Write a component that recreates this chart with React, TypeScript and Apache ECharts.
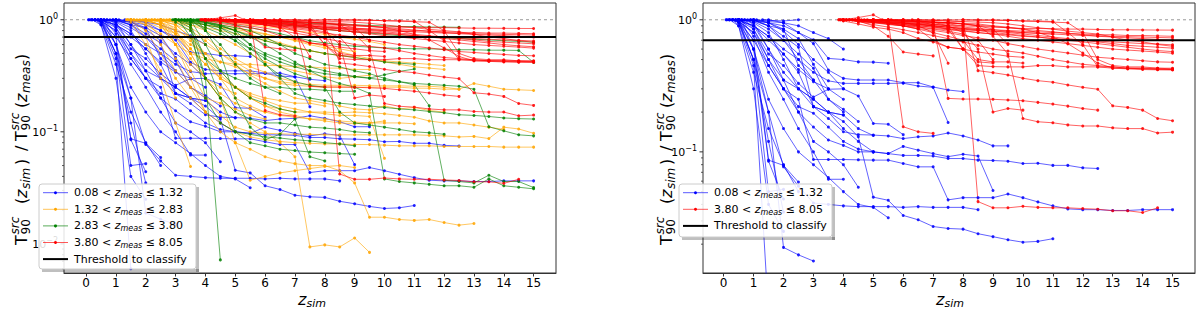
import React, { useEffect, useRef } from "react";
import * as echarts from "echarts";

const FONT = '"DejaVu Sans", sans-serif';

// simulated-redshift grid (points after the measured redshift of each burst)
const zGrid = [0.5, 1, 1.5, 2, 2.5, 3, 3.5, 4, 4.5, 5, 5.5, 6, 6.5, 7, 7.5, 8, 8.5, 9, 9.5, 10, 10.5, 11, 11.5, 12, 12.5, 13, 13.5, 14, 14.5, 15];

// each line: [z_meas, ratio at z_meas, ratios at following zGrid points...]
const blueLines = [
  [0.3, 1, 0.95, 0.45, 0.006],
  [0.4, 1, 0.97, 0.5, 0.05, 0.052],
  [0.5, 1, 0.6, 0.085, 0.044],
  [0.6, 1, 0.6, 0.2, 0.0189, 0.0166, 0.0149],
  [0.5, 1, 0.7, 0.0866, 0.079, 0.059],
  [0.7, 1, 0.85, 0.5, 0.3, 0.25, 0.0875, 0.0875, 0.0875, 0.087, 0.0866, 0.0866, 0.0816, 0.077, 0.077, 0.0433, 0.045, 0.045, 0.045, 0.048, 0.045, 0.0418, 0.039, 0.037, 0.0365, 0.0365, 0.036, 0.036, 0.0365, 0.0365, 0.0365],
  [0.3, 1, 0.98, 0.8, 0.45, 0.3, 0.2, 0.154, 0.123, 0.112, 0.1, 0.1, 0.097, 0.094, 0.094, 0.093, 0.089, 0.089, 0.0866, 0.086, 0.085, 0.0816, 0.082, 0.079, 0.079, 0.0757, 0.0748],
  [0.2, 1, 0.97, 0.8, 0.5, 0.35, 0.3, 0.25, 0.2, 0.17, 0.13, 0.0454, 0.043, 0.033, 0.0306, 0.0272, 0.0263, 0.026, 0.024, 0.0228, 0.0216, 0.0207, 0.021, 0.022],
  [0.3, 1, 0.95, 0.5, 0.2, 0.077, 0.055, 0.041, 0.04, 0.039, 0.0385, 0.0385, 0.0385, 0.038, 0.0385, 0.038, 0.038, 0.038, 0.0365],
  [0.5, 1, 1, 0.97, 0.95, 0.8, 0.705, 0.51, 0.5, 0.48, 0.478, 0.469],
  [0.6, 1, 0.98, 0.95, 0.9, 0.8, 0.66, 0.417, 0.36, 0.35, 0.35, 0.35, 0.334, 0.334, 0.31, 0.294, 0.286],
  [0.4, 1, 1, 0.9, 0.75, 0.6, 0.5, 0.4, 0.345, 0.33, 0.33, 0.33, 0.33, 0.331, 0.315, 0.308, 0.167],
  [0.3, 1, 1, 0.85, 0.55, 0.45, 0.33, 0.26, 0.298, 0.3, 0.265, 0.164, 0.162, 0.135],
  [0.5, 1, 0.95, 0.6, 0.4, 0.3, 0.22, 0.179, 0.142, 0.135, 0.134, 0.132, 0.126, 0.13, 0.132, 0.139, 0.132, 0.123, 0.111, 0.111],
  [0.2, 1, 0.97, 0.7, 0.45, 0.3, 0.22, 0.196, 0.154, 0.12, 0.105, 0.1, 0.097, 0.11, 0.103, 0.097, 0.092, 0.096, 0.093, 0.051],
  [0.4, 1, 0.97, 0.6, 0.25, 0.15, 0.1, 0.08, 0.064, 0.05, 0.04, 0.038, 0.0317],
  [0.6, 1, 0.75, 0.4, 0.25, 0.15, 0.1, 0.062, 0.062],
  [0.3, 1, 1, 0.9, 0.6, 0.35, 0.2, 0.12, 0.1, 0.08, 0.054],
  [0.1, 1, 1, 1, 0.99, 0.98, 1.0],
  [0.5, 1, 0.99, 0.95, 0.85, 0.72, 0.46, 0.3],
  [0.8, 1, 0.9, 0.7, 0.55, 0.42, 0.34, 0.3, 0.25],
  [0.9, 1, 0.97, 0.85, 0.7, 0.55, 0.43, 0.25, 0.21, 0.17],
  [1.0, 1, 0.9, 0.75, 0.62, 0.22, 0.2, 0.19, 0.15, 0.133],
  [1.1, 1, 0.95, 0.82, 0.65, 0.5, 0.4, 0.3],
  [1.3, 1, 1, 0.95, 0.9, 0.8, 0.72, 0.6],
  [0.2, 1, 0.9, 0.3, 0.04, 0.025],
  [0.3, 1, 0.9, 0.4, 0.15, 0.08, 0.05],
  [0.5, 1, 0.5, 0.12, 0.035],
  [0.15, 1, 0.98, 0.9, 0.75, 0.55, 0.4, 0.22, 0.2, 0.19],
  [0.7, 1, 0.95, 0.8, 0.5, 0.3, 0.25, 0.2, 0.15, 0.12, 0.1],
  [0.9, 1, 1, 0.9, 0.85, 0.45, 0.35, 0.25, 0.2],
  [0.08, 1, 1, 0.98, 0.9, 0.7, 0.5, 0.35],
];

const orangeLines = [
  [1.5, 1, 0.95, 0.85, 0.75, 0.6, 0.5, 0.42, 0.38, 0.33, 0.3, 0.28, 0.27, 0.265, 0.26, 0.26, 0.26, 0.258, 0.257, 0.257, 0.255, 0.255, 0.25, 0.24, 0.27, 0.255, 0.24, 0.237, 0.234],
  [2.0, 1, 0.9, 0.6, 0.35, 0.2, 0.14, 0.11, 0.1, 0.097, 0.096, 0.095, 0.095, 0.094, 0.094, 0.094, 0.094, 0.094, 0.094, 0.094, 0.093, 0.092, 0.09, 0.091, 0.087, 0.11, 0.106, 0.097],
  [1.8, 1, 0.97, 0.7, 0.45, 0.25, 0.15, 0.12, 0.1, 0.09, 0.085, 0.082, 0.08, 0.079, 0.078, 0.078, 0.077, 0.077, 0.076, 0.075, 0.075, 0.075, 0.074, 0.074, 0.074, 0.074, 0.073, 0.073, 0.073],
  [2.5, 1, 0.6, 0.3, 0.15, 0.1, 0.08, 0.07, 0.06, 0.055, 0.052, 0.05, 0.05, 0.045, 0.035, 0.0173, 0.0173, 0.0165, 0.0162, 0.0165, 0.0155, 0.0147, 0.0152],
  [2.2, 1, 0.95, 0.8, 0.5, 0.3, 0.2, 0.15, 0.12, 0.1, 0.08, 0.06, 0.0094, 0.0098, 0.0094, 0.0113, 0.0084],
  [1.5, 1, 0.7, 0.3, 0.12, 0.049],
  [2.6, 1, 0.8, 0.55, 0.4, 0.3, 0.25, 0.21, 0.19, 0.17, 0.16, 0.15, 0.145, 0.14, 0.14, 0.137, 0.058],
  [1.4, 1, 1, 0.9, 0.75, 0.6, 0.5, 0.45, 0.42, 0.4, 0.4, 0.39, 0.39, 0.38, 0.38, 0.37, 0.37, 0.36, 0.36],
  [1.6, 1, 0.98, 0.9, 0.8, 0.7, 0.6, 0.5, 0.42, 0.35, 0.3, 0.27, 0.26, 0.255, 0.25, 0.25, 0.25, 0.25, 0.25, 0.25, 0.245, 0.245, 0.24, 0.24],
  [2.0, 1, 0.95, 0.85, 0.65, 0.45, 0.32, 0.25, 0.2, 0.17, 0.16, 0.15, 0.15, 0.15, 0.148, 0.15, 0.148, 0.145, 0.14, 0.135, 0.125, 0.12, 0.12, 0.115, 0.11, 0.105],
  [2.3, 1, 0.98, 0.9, 0.8, 0.65, 0.5, 0.4, 0.32, 0.27, 0.23, 0.2, 0.19, 0.18, 0.17, 0.16, 0.157, 0.17, 0.16, 0.165, 0.155, 0.15],
  [2.8, 1, 0.9, 0.7, 0.5, 0.35, 0.25, 0.2, 0.17, 0.15, 0.14, 0.13, 0.125, 0.12, 0.118, 0.12, 0.125],
  [2.4, 1, 0.95, 0.75, 0.5, 0.3, 0.2, 0.08, 0.037, 0.04, 0.043, 0.045, 0.047, 0.049, 0.05, 0.048],
  [1.4, 1, 1, 1, 0.98, 0.95, 0.9, 0.85, 0.8, 0.75, 0.7, 0.65, 0.6, 0.56, 0.53, 0.5],
  [1.7, 1, 1, 0.99, 0.97, 0.94, 0.9, 0.86, 0.82, 0.78, 0.74, 0.7, 0.66, 0.62, 0.58, 0.55, 0.52],
  [2.1, 1, 1, 1, 0.99, 0.98, 0.96, 0.93, 0.9, 0.87, 0.84, 0.8, 0.77, 0.74, 0.7, 0.67, 0.64, 0.6],
  [2.7, 1, 1, 0.98, 0.95, 0.9, 0.85, 0.8, 0.75, 0.7, 0.65, 0.6, 0.56, 0.52, 0.48, 0.45, 0.42, 0.4, 0.38, 0.37, 0.36],
  [1.35, 1, 0.95, 0.6, 0.35, 0.2],
  [1.5, 1, 0.8, 0.5, 0.3, 0.2, 0.15],
  [1.9, 1, 1, 0.9, 0.6, 0.4, 0.3, 0.25, 0.22],
  [2.2, 1, 0.98, 0.9, 0.7, 0.45, 0.3, 0.2, 0.17, 0.15],
  [2.5, 1, 0.95, 0.85, 0.7, 0.55, 0.45, 0.38, 0.34, 0.3, 0.28],
  [1.6, 1, 0.9, 0.6, 0.35, 0.25, 0.2, 0.18, 0.16, 0.14, 0.13],
  [2.3, 1, 1, 0.98, 0.95, 0.9, 0.85, 0.8, 0.74, 0.68, 0.62, 0.57, 0.53, 0.5, 0.48, 0.46, 0.44, 0.43, 0.42, 0.41, 0.4, 0.39],
  [2.8, 1, 0.98, 0.9, 0.8, 0.7, 0.6, 0.5, 0.42, 0.38, 0.35, 0.33, 0.31, 0.3, 0.31, 0.32],
  [2.0, 1, 0.9, 0.7, 0.45, 0.3, 0.22, 0.18, 0.16, 0.15, 0.14, 0.135, 0.13, 0.13, 0.125, 0.122, 0.12, 0.12, 0.12, 0.118],
  [1.5, 1, 0.98, 0.9, 0.75, 0.55, 0.4, 0.3, 0.25, 0.22, 0.2, 0.19, 0.18, 0.18, 0.17],
];

const greenLines = [
  [3.0, 1, 0.95, 0.9, 0.85, 0.75, 0.6, 0.5, 0.45, 0.4, 0.38, 0.35, 0.33, 0.31, 0.3, 0.29, 0.28, 0.263, 0.171, 0.037, 0.036, 0.035, 0.041, 0.036, 0.036, 0.0318],
  [3.2, 1, 0.97, 0.93, 0.88, 0.8, 0.7, 0.6, 0.5, 0.42, 0.35, 0.3, 0.27, 0.25, 0.22, 0.038, 0.036, 0.035, 0.034, 0.033, 0.033, 0.032, 0.038, 0.033, 0.032, 0.031],
  [3.1, 1, 0.98, 0.95, 0.9, 0.85, 0.8, 0.7, 0.6, 0.5, 0.45, 0.4, 0.38, 0.35, 0.33, 0.3, 0.28, 0.27, 0.265, 0.26, 0.255, 0.24, 0.111, 0.102, 0.094, 0.092],
  [3.3, 1, 1, 0.97, 0.9, 0.8, 0.6, 0.4, 0.3, 0.22, 0.2, 0.19, 0.18, 0.175, 0.17, 0.165, 0.16, 0.157, 0.152, 0.148, 0.142, 0.14, 0.137, 0.133, 0.131, 0.13],
  [3.5, 1, 0.98, 0.95, 0.9, 0.85, 0.8, 0.75, 0.7, 0.65, 0.62, 0.6, 0.58, 0.57, 0.56, 0.555, 0.55, 0.55, 0.545, 0.54, 0.54, 0.535, 0.535, 0.532, 0.416],
  [3.8, 1, 1, 0.99, 0.98, 0.97, 0.96, 0.95, 0.94, 0.93, 0.92, 0.91, 0.9, 0.89, 0.88, 0.87, 0.87, 0.86, 0.86, 0.855],
  [3.0, 1, 0.95, 0.85, 0.75, 0.65, 0.55, 0.48, 0.42, 0.38, 0.35, 0.33, 0.32, 0.312, 0.302, 0.323, 0.346, 0.363],
  [3.2, 1, 0.9, 0.3, 0.0072],
  [2.9, 1, 1, 0.9, 0.45, 0.35, 0.3, 0.27, 0.25, 0.25, 0.24, 0.24, 0.235, 0.23, 0.23],
  [3.0, 1, 0.85, 0.2, 0.12, 0.1, 0.095, 0.09, 0.088, 0.085, 0.083, 0.08, 0.078, 0.075],
  [3.4, 1, 1, 0.8, 0.5, 0.2, 0.11, 0.085, 0.095, 0.13, 0.06, 0.055],
  [3.6, 1, 0.95, 0.88, 0.8, 0.72, 0.65, 0.6, 0.56, 0.53, 0.5, 0.48, 0.46, 0.44, 0.42, 0.41, 0.4],
  [3.1, 1, 0.7, 0.3, 0.2, 0.15, 0.13, 0.12, 0.12, 0.115, 0.11, 0.108, 0.105, 0.1, 0.098],
  [3.5, 1, 0.6, 0.35, 0.25, 0.2, 0.18, 0.16, 0.15],
  [3.3, 1, 0.98, 0.9, 0.8, 0.65, 0.5, 0.4, 0.32, 0.28, 0.26, 0.25, 0.15, 0.12, 0.115, 0.11, 0.105, 0.1, 0.098, 0.095],
  [3.7, 1, 0.8, 0.6, 0.4, 0.3, 0.25, 0.22],
  [2.95, 1, 0.95, 0.8, 0.45, 0.2, 0.1, 0.08, 0.075, 0.07, 0.068, 0.066, 0.065, 0.064, 0.063],
  [3.4, 1, 0.99, 0.95, 0.85, 0.7, 0.55, 0.45, 0.38, 0.33, 0.3],
  [3.75, 1, 1, 0.99, 0.97, 0.95, 0.93, 0.9, 0.88, 0.85, 0.82, 0.8, 0.78, 0.76, 0.74, 0.72, 0.71, 0.7, 0.69, 0.68, 0.67, 0.66, 0.65, 0.64, 0.63],
];

const redLines = [
  [3.85, 1, 0.99, 0.98, 0.97, 0.95, 0.94, 0.93, 0.92, 0.91, 0.9, 0.89, 0.88, 0.87, 0.86, 0.86, 0.855, 0.85, 0.85, 0.845, 0.84, 0.84, 0.838, 0.836, 0.835],
  [3.9, 1, 1, 0.98, 0.96, 0.94, 0.92, 0.9, 0.88, 0.86, 0.84, 0.83, 0.82, 0.81, 0.8, 0.79, 0.78, 0.77, 0.76, 0.755, 0.75, 0.745, 0.74, 0.735, 0.73],
  [4.0, 1, 0.97, 0.95, 0.93, 0.9, 0.88, 0.86, 0.84, 0.82, 0.8, 0.78, 0.77, 0.75, 0.74, 0.72, 0.71, 0.7, 0.69, 0.68, 0.67, 0.66, 0.655, 0.646],
  [4.1, 1, 0.98, 0.96, 0.95, 0.93, 0.92, 0.9, 0.88, 0.86, 0.84, 0.82, 0.8, 0.78, 0.76, 0.74, 0.72, 0.7, 0.68, 0.66, 0.64, 0.63, 0.62, 0.61],
  [4.3, 1, 0.99, 0.98, 0.96, 0.95, 0.93, 0.9, 0.88, 0.85, 0.83, 0.8, 0.78, 0.76, 0.74, 0.72, 0.7, 0.68, 0.66, 0.64, 0.62, 0.6, 0.585, 0.574],
  [4.5, 1, 0.97, 0.95, 0.92, 0.9, 0.88, 0.85, 0.83, 0.8, 0.78, 0.75, 0.72, 0.7, 0.68, 0.66, 0.64, 0.62, 0.6, 0.59, 0.58, 0.57, 0.558],
  [3.95, 1, 1, 0.98, 0.96, 0.93, 0.9, 0.86, 0.83, 0.8, 0.76, 0.73, 0.7, 0.66, 0.63, 0.6, 0.58, 0.56, 0.54, 0.52, 0.51, 0.5, 0.49, 0.48, 0.477],
  [4.2, 1, 1, 1, 1, 1, 1, 1, 1, 1, 0.99, 0.99, 0.99, 0.98, 0.98, 0.97, 0.8, 0.65, 0.44, 0.43, 0.43, 0.43, 0.43, 0.43],
  [4.4, 1, 0.97, 0.92, 0.88, 0.84, 0.8, 0.76, 0.72, 0.68, 0.64, 0.6, 0.58, 0.56, 0.53, 0.5, 0.48, 0.46, 0.45, 0.44, 0.43, 0.425, 0.42, 0.42],
  [4.6, 1, 1, 0.99, 0.98, 0.97, 0.96, 0.95, 0.94, 0.93, 0.9, 0.88, 0.85, 0.8, 0.74, 0.66, 0.56, 0.47, 0.43, 0.425, 0.42, 0.418, 0.417],
  [4.0, 1, 1, 0.99, 0.98, 0.97, 0.96, 0.95, 0.93, 0.9, 0.412, 0.398, 0.382, 0.361, 0.346, 0.337, 0.321, 0.308, 0.298, 0.223, 0.217, 0.207, 0.179, 0.172],
  [4.2, 1, 1, 1, 0.99, 0.98, 0.97, 0.96, 0.95, 0.93, 0.9, 0.75, 0.55, 0.179, 0.169, 0.166, 0.16, 0.157, 0.157, 0.152, 0.15, 0.15, 0.139, 0.141],
  [4.5, 1, 1, 0.99, 0.98, 0.97, 0.92, 0.254, 0.251, 0.251, 0.25, 0.247, 0.244, 0.237, 0.23, 0.222, 0.213, 0.207],
  [4.8, 1, 1, 0.98, 0.96, 0.94, 0.92, 0.9, 0.8, 0.6, 0.2, 0.213, 0.207],
  [4.0, 1, 1, 0.99, 0.98, 0.155, 0.142, 0.138],
  [4.3, 1, 1, 1, 1, 1, 0.99, 0.99, 0.98, 0.97, 0.042, 0.0377, 0.0377, 0.0387, 0.038, 0.0377, 0.0377, 0.0372, 0.0368, 0.0358, 0.0358, 0.0347, 0.0377],
  [4.1, 1, 0.98, 0.9, 0.75, 0.57, 0.55, 0.533],
  [4.7, 1, 0.99, 0.97, 0.95, 0.9, 0.8, 0.469],
  [5.0, 1, 1, 0.99, 0.98, 0.96, 0.9, 0.6, 0.48, 0.47],
  [4.4, 1, 1, 0.99, 0.97, 0.95, 0.92, 0.9, 0.85, 0.6, 0.45, 0.442, 0.44, 0.44, 0.45, 0.45, 0.44, 0.44, 0.44, 0.44, 0.43, 0.43, 0.425, 0.42],
  [3.85, 1, 1, 1.04, 1.09, 0.95, 0.9, 0.85, 0.7, 0.62, 0.6, 0.57, 0.55, 0.53, 0.52],
  [5.3, 1, 0.99, 0.97, 0.95, 0.93, 0.9, 0.88, 0.86, 0.84, 0.83, 0.82, 0.81, 0.8, 0.79, 0.78, 0.77, 0.77, 0.76, 0.76, 0.755, 0.75],
  [4.0, 1, 0.99, 0.98, 0.96, 0.94, 0.92, 0.9, 0.88, 0.86, 0.85, 0.84, 0.82, 0.8, 0.79, 0.78],
  [6.3, 1, 1, 0.99, 0.98, 0.97, 0.96, 0.95, 0.93, 0.9, 0.87, 0.85, 0.82, 0.8, 0.78, 0.74, 0.7, 0.68, 0.65, 0.63],
  [8.0, 1, 1, 1, 0.99, 0.98, 0.97, 0.96, 0.95, 0.8, 0.5, 0.45, 0.44, 0.44, 0.43, 0.425],
  [4.5, 1, 0.98, 0.95, 0.92, 0.88, 0.85, 0.82, 0.78, 0.7, 0.5],
  [4.2, 1, 0.97, 0.95, 0.92, 0.9, 0.85, 0.8, 0.75, 0.7, 0.5, 0.48, 0.48, 0.47],
  [5.6, 1, 1, 0.98, 0.96, 0.95, 0.93, 0.9, 0.85, 0.65],
  [3.9, 1, 0.98, 0.93, 0.88, 0.85, 0.8, 0.72, 0.68, 0.62, 0.6],
  [4.1, 1, 1, 0.99, 0.99, 0.98, 0.97, 0.96, 0.95, 0.93, 0.91, 0.89, 0.87, 0.85, 0.83, 0.81, 0.79, 0.77, 0.75, 0.74, 0.73, 0.72, 0.71, 0.7],
];

const binBounds = [["0.08", "1.32"], ["1.32", "2.83"], ["2.83", "3.80"], ["3.80", "8.05"]];
const thresholdLabel = "Threshold to classify";
const THRESHOLD = 0.7;
const REFERENCE = 1;
const xTicks = [0, 1, 2, 3, 4, 5, 6, 7, 8, 9, 10, 11, 12, 13, 14, 15];
const yMajorTicks = [0.01, 0.1, 1];
const yMajorExp = ["\u22122", "\u22121", "0"];
const yMinorTicks = [0.006, 0.007, 0.008, 0.009, 0.02, 0.03, 0.04, 0.05, 0.06, 0.07, 0.08, 0.09, 0.2, 0.3, 0.4, 0.5, 0.6, 0.7, 0.8, 0.9];

const COLORS = { blue: "#0000ff", orange: "#ffa500", green: "#008000", red: "#ff0000" };

function toPoints(line: number[]) {
  const z0 = line[0];
  const vals = line.slice(1);
  const xs = zGrid.filter((z) => z > z0 + 1e-9);
  const pts: number[][] = [[z0, vals[0]]];
  for (let i = 1; i < vals.length; i++) pts.push([xs[i - 1], vals[i]]);
  return pts;
}

const PANELS = [
  {
    grid: { left: 64, top: 3, width: 492, height: 270 },
    xMin: -0.74, xMax: 15.75, yMin: 0.0055, yMax: 1.41,
    groups: [
      { color: COLORS.blue, lines: blueLines, bin: 0 },
      { color: COLORS.orange, lines: orangeLines, bin: 1 },
      { color: COLORS.green, lines: greenLines, bin: 2 },
      { color: COLORS.red, lines: redLines, bin: 3 },
    ],
    legend: { x: 39, y: 184, w: 157, h: 85 },
    yTitle: { x: 21, y: 245 },
    xTitle: { x: 298, y: 299 },
  },
  {
    grid: { left: 703, top: 3, width: 492, height: 270 },
    xMin: -0.69, xMax: 15.75, yMin: 0.0121, yMax: 1.34,
    groups: [
      { color: COLORS.blue, lines: blueLines, bin: 0 },
      { color: COLORS.red, lines: redLines, bin: 3 },
    ],
    legend: { x: 679, y: 184, w: 153, h: 53 },
    yTitle: { x: 666, y: 245 },
    xTitle: { x: 936, y: 299 },
  },
];

const RICH_LEG = {
  n: { fontSize: 11, fontFamily: FONT, fill: "#000" },
  i: { fontSize: 11, fontFamily: FONT, fontStyle: "italic", fill: "#000" },
  s: { fontSize: 8, fontFamily: FONT, fontStyle: "italic", fill: "#000", padding: [6, 0, 0, 0] },
};

function txt(text: string, x: number, y: number, size: number, italic = false, z = 60) {
  return {
    type: "text", x, y, z,
    style: { text, fontSize: size, fontFamily: FONT, fontStyle: italic ? "italic" : "normal", fill: "#000", align: "left", verticalAlign: "middle" },
  };
}

function yTitleGroup(cx: number, cy: number) {
  return {
    type: "group", x: cx, y: cy, rotation: Math.PI / 2, z: 60,
    children: [
      txt("T", 0, 0, 16), txt("src", 10.5, -6, 12, true), txt("90", 10.5, 5, 12),
      txt("(", 41, 0, 16), txt("z", 47, 0, 16, true), txt("sim", 56, 5, 12, true), txt(")", 80, 0, 16),
      txt("/", 94, 0, 16),
      txt("T", 104, 0, 16), txt("src", 114.5, -6, 12, true), txt("90", 114.5, 5, 12),
      txt("(", 137, 0, 16), txt("z", 143, 0, 16, true), txt("meas", 152, 5, 12, true), txt(")", 185, 0, 16),
    ],
  };
}

function legendEls(box: any, groups: any[]) {
  const els: any[] = [];
  els.push({ type: "rect", z: 90, shape: { x: box.x + box.w, y: box.y + 3, width: 3, height: box.h }, style: { fill: "rgba(0,0,0,0.25)" } });
  els.push({ type: "rect", z: 90, shape: { x: box.x + 3, y: box.y + box.h, width: box.w, height: 3 }, style: { fill: "rgba(0,0,0,0.25)" } });
  els.push({ type: "rect", z: 91, shape: { x: box.x, y: box.y, width: box.w, height: box.h, r: 3 }, style: { fill: "rgba(255,255,255,0.85)", stroke: "#cccccc", lineWidth: 1 } });
  const entries = groups.map((g) => ({
    color: g.color, width: 1, marker: true,
    text: `{n|${binBounds[g.bin][0]} < }{i|z}{s|meas}{n| \u2264 ${binBounds[g.bin][1]}}`,
  }));
  entries.push({ color: "#000", width: 2, marker: false, text: `{n|${thresholdLabel}}` });
  entries.forEach((e, i) => {
    const y = box.y + 8.7 + i * 16.6;
    els.push({ type: "line", z: 92, shape: { x1: box.x + 4, y1: y, x2: box.x + 29, y2: y }, style: { stroke: e.color, lineWidth: e.width, opacity: e.marker ? 0.65 : 1 } });
    if (e.marker) els.push({ type: "circle", z: 93, shape: { cx: box.x + 16.5, cy: y, r: 1.5 }, style: { fill: e.color } });
    els.push({ type: "text", z: 93, x: box.x + 35, y, style: { text: e.text, rich: RICH_LEG, fontSize: 11, fontFamily: FONT, fill: "#000", align: "left", verticalAlign: "middle" } });
  });
  return els;
}

export default function App() {
  const ref = useRef<HTMLDivElement>(null);
  useEffect(() => {
    if (!ref.current) return;
    const chart = echarts.init(ref.current, null, { renderer: "svg", width: 1200, height: 310 });
    const series: any[] = [];
    PANELS.forEach((p, pi) => {
      series.push({
        type: "line", xAxisIndex: pi, yAxisIndex: pi, silent: true, z: 1, symbol: "none",
        data: [[p.xMin, REFERENCE], [p.xMax, REFERENCE]],
        lineStyle: { color: "#999999", width: 1, type: [3, 3] },
      });
      p.groups.forEach((g) => {
        g.lines.forEach((l) => {
          series.push({
            type: "line", xAxisIndex: pi, yAxisIndex: pi, silent: true, z: 2,
            data: toPoints(l), symbol: "circle", symbolSize: 3, showSymbol: true,
            lineStyle: { color: g.color, width: 1, opacity: 0.62 },
            itemStyle: { color: g.color, opacity: 0.85 },
            emphasis: { disabled: true },
          });
        });
      });
      series.push({
        type: "line", xAxisIndex: pi, yAxisIndex: pi, silent: true, z: 3, symbol: "none",
        data: [[p.xMin, THRESHOLD], [p.xMax, THRESHOLD]],
        lineStyle: { color: "#000000", width: 2 },
      });
    });
    chart.setOption({
      animation: false,
      grid: PANELS.map((p) => ({ ...p.grid, show: true, borderColor: "#333333", borderWidth: 1, backgroundColor: "transparent" })),
      xAxis: PANELS.map((p, i) => ({
        type: "value", gridIndex: i, min: p.xMin, max: p.xMax,
        splitLine: { show: false },
        axisLine: { show: true, onZero: false, lineStyle: { color: "#333333" } },
        axisTick: { show: true, customValues: xTicks, length: 3.5, lineStyle: { color: "#333333" } },
        axisLabel: { customValues: xTicks, fontSize: 12, fontFamily: FONT, color: "#000", margin: 4 },
      })),
      yAxis: PANELS.map((p, i) => ({
        type: "log", logBase: 10, gridIndex: i, min: p.yMin, max: p.yMax,
        splitLine: { show: false }, axisLine: { show: false }, axisTick: { show: false }, axisLabel: { show: false },
      })),
      series,
    });

    const graphic: any[] = [];
    PANELS.forEach((p, pi) => {
      const left = p.grid.left;
      yMajorTicks.forEach((v, k) => {
        if (v < p.yMin || v > p.yMax) return;
        const y = chart.convertToPixel({ yAxisIndex: pi } as any, v) as number;
        graphic.push({ type: "line", z: 50, shape: { x1: left - 3.5, y1: y, x2: left, y2: y }, style: { stroke: "#333333", lineWidth: 1 } });
        graphic.push({
          type: "text", z: 50, x: left - 6, y: y + 0.5,
          style: {
            text: `{b|10}{s|${yMajorExp[k]}}`, align: "right", verticalAlign: "middle",
            rich: { b: { fontSize: 11, fontFamily: FONT, fill: "#000" }, s: { fontSize: 8, fontFamily: FONT, fill: "#000", padding: [0, 0, 8, 0] } },
          },
        });
      });
      yMinorTicks.forEach((v) => {
        if (v < p.yMin || v > p.yMax) return;
        const y = chart.convertToPixel({ yAxisIndex: pi } as any, v) as number;
        graphic.push({ type: "line", z: 50, shape: { x1: left - 2, y1: y, x2: left, y2: y }, style: { stroke: "#333333", lineWidth: 0.8 } });
      });
      graphic.push(yTitleGroup(p.yTitle.x, p.yTitle.y));
      graphic.push(txt("z", p.xTitle.x, p.xTitle.y, 16, true));
      graphic.push(txt("sim", p.xTitle.x + 8.5, p.xTitle.y + 4, 11, true));
      legendEls(p.legend, p.groups).forEach((e) => graphic.push(e));
    });
    chart.setOption({ graphic });
    return () => chart.dispose();
  }, []);
  return <div ref={ref} style={{ position: "fixed", left: 0, top: 0, width: 1200, height: 310, background: "#fff" }} />;
}
